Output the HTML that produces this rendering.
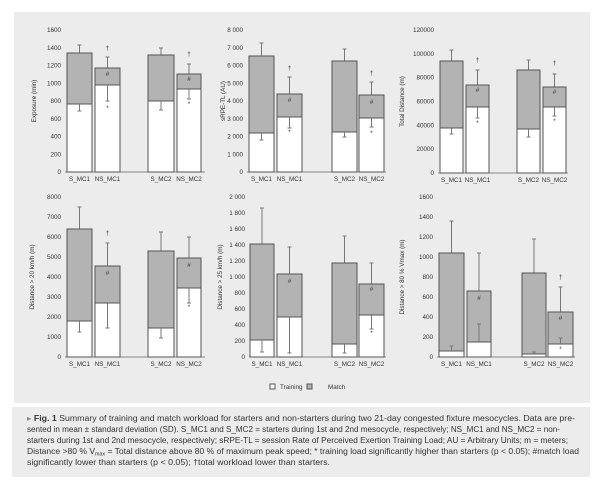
<!DOCTYPE html>
<html><head><meta charset="utf-8"><style>
body{margin:0;background:#fff;width:604px;height:487px;overflow:hidden;font-family:"Liberation Sans",sans-serif}
svg text{font-family:"Liberation Sans",sans-serif;fill:#333}
.t{font-size:6.3px}
.c{font-size:8px}
</style></head><body>
<svg width="604" height="487" style="position:absolute;left:0;top:0" xmlns="http://www.w3.org/2000/svg">
<rect x="14" y="12" width="576" height="391" fill="#ececec"/>
<rect x="12" y="407" width="578" height="70" fill="#ececec"/>
<g id="c"></g>
<text class="c" x="27" y="421" textLength="548" lengthAdjust="spacingAndGlyphs"><tspan fill="#888">▸</tspan> <tspan font-weight="bold">Fig. 1</tspan>   Summary of training and match workload for starters and non-starters during two 21-day congested fixture mesocycles. Data are pre-</text>
<text class="c" x="27" y="432" textLength="533" lengthAdjust="spacingAndGlyphs">sented in mean ± standard deviation (SD). S_MC1 and S_MC2 = starters during 1st and 2nd mesocycle, respectively; NS_MC1 and NS_MC2 = non-</text>
<text class="c" x="27" y="443" textLength="541" lengthAdjust="spacingAndGlyphs">starters during 1st and 2nd mesocycle, respectively; sRPE-TL = session Rate of Perceived Exertion Training Load; AU = Arbitrary Units; m = meters;</text>
<text class="c" x="27" y="454" textLength="552" lengthAdjust="spacingAndGlyphs">Distance &gt;80 % V<tspan font-size="5" dy="1.5">max</tspan><tspan dy="-1.5"> = Total distance above 80 % of maximum peak speed;  * training load significantly higher than starters (p &lt; 0.05); #match load</tspan></text>
<text class="c" x="27" y="465" textLength="303" lengthAdjust="spacingAndGlyphs">significantly lower than starters (p &lt; 0.05); †total workload lower than starters.</text>
</svg>
<script>
const g=document.getElementById('c');let s='';
function T(x,y,t,a,cls){s+=`<text x="${x}" y="${y}" class="${cls||'t'}" text-anchor="${a||'middle'}">${t}</text>`;}
function chart(o){
 const n=o.ticks.length-1;
 o.ticks.forEach((t,i)=>{const y=o.y0-(o.y0-o.ytop)*i/n;T(o.ax-4,y+2,t,'end');});
 s+=`<line x1="${o.ax}" y1="${o.y0}" x2="${o.xe}" y2="${o.y0}" stroke="#888" stroke-width="1"/>`;
 const cy=(o.y0+o.ytop)/2;
 s+=`<text class="t" x="${o.tx}" y="${cy}" text-anchor="middle" transform="rotate(-90 ${o.tx} ${cy})">${o.title}</text>`;
 o.bars.forEach(b=>{
  const [x1,x2,tr,trE,tot,totE,lab,mk]=b;const w=x2-x1,cx=(x1+x2)/2;
  s+=`<line x1="${cx}" y1="${tot}" x2="${cx}" y2="${totE}" stroke="#777" stroke-width="1"/><line x1="${cx-2}" y1="${totE}" x2="${cx+2}" y2="${totE}" stroke="#777"/>`;
  s+=`<rect x="${x1}" y="${tot}" width="${w}" height="${tr-tot}" fill="#b3b3b3" stroke="#555" stroke-width="1"/>`;
  s+=`<rect x="${x1}" y="${tr}" width="${w}" height="${o.y0-tr}" fill="#fff" stroke="#555" stroke-width="1"/>`;
  s+=`<line x1="${cx}" y1="${tr}" x2="${cx}" y2="${trE}" stroke="#777" stroke-width="1"/><line x1="${cx-2}" y1="${trE}" x2="${cx+2}" y2="${trE}" stroke="#777"/>`;
  T(cx,o.y0+9,lab);
  if(mk){mk.forEach(m=>{T(cx,m[1]+2,m[0],'middle');});}
 });
}
chart({ax:65,xe:205,y0:172,ytop:30,ticks:['0','200','400','600','800','1000','1200','1400','1600'],tx:36,title:'Exposure (min)',bars:[
 [67,92,104,111,53,45,'S_MC1'],
 [95,120,85,101,68,57,'NS_MC1',[['†',48],['#',74],['*',108]]],
 [148,174,101,110,55,48,'S_MC2'],
 [177,201,89,99,74,64,'NS_MC2',[['†',54],['#',79],['*',104]]]]});
chart({ax:247,xe:386,y0:172,ytop:30,ticks:['0','1 000','2 000','3 000','4 000','5 000','6 000','7 000','8 000'],tx:225,title:'sRPE-TL (AU)',bars:[
 [249,274,133,140,56,43,'S_MC1'],
 [277,302,117,128,94,77,'NS_MC1',[['†',68],['#',100],['*',132]]],
 [332,357,132,137,61,49,'S_MC2'],
 [359,384,118,127,95,82,'NS_MC2',[['†',73],['#',102],['*',133]]]]});
chart({ax:438,xe:568,y0:173,ytop:30,ticks:['0','20000','40000','60000','80000','100000','120000'],tx:404,title:'Total Distance (m)',bars:[
 [440,463,128,134,61,50,'S_MC1'],
 [466,489,107,118,85,70,'NS_MC1',[['†',60],['#',90],['*',123]]],
 [517,540,129,137,70,60,'S_MC2'],
 [543,566,107,116,87,74,'NS_MC2',[['†',63],['#',92],['*',121]]]]});
chart({ax:65,xe:205,y0:357,ytop:197,ticks:['0','1000','2000','3000','4000','5000','6000','7000','8000'],tx:34,title:'Distance &gt; 20 km/h (m)',bars:[
 [67,92,321,332,229,207,'S_MC1'],
 [95,120,303,328,266,243,'NS_MC1',[['†',233],['#',273]]],
 [148,174,328,338,251,232,'S_MC2'],
 [177,201,288,303,258,237,'NS_MC2',[['#',265],['*',307]]]]});
chart({ax:249,xe:386,y0:357,ytop:197,ticks:['0','200','400','600','800','1 000','1 200','1 400','1 600','1 800','2 000'],tx:222,title:'Distance &gt; 25 km/h (m)',bars:[
 [250,274,340,352,244,208,'S_MC1'],
 [277,302,317,353,274,247,'NS_MC1',[['#',281]]],
 [332,357,344,353,263,236,'S_MC2'],
 [359,384,315,329,284,263,'NS_MC2',[['#',289],['*',333]]]]});
chart({ax:437,xe:575,y0:357,ytop:197,ticks:['0','200','400','600','800','1000','1200','1400','1600'],tx:404,title:'Distance &gt; 80 % Vmax (m)',bars:[
 [439,464,351,346,253,221,'S_MC1'],
 [467,491,342,324,291,253,'NS_MC1',[['#',298]]],
 [522,546,354,352,273,239,'S_MC2'],
 [548,573,344,338,312,287,'NS_MC2',[['†',277],['#',318],['*',349]]]]});
s+=`<rect x="270" y="384" width="5" height="5" fill="#fff" stroke="#555"/>`;
T(280,389,'Training','start');
s+=`<rect x="307" y="384" width="5" height="5" fill="#b3b3b3" stroke="#555"/>`;
T(328,389,'Match','start');
g.innerHTML=s;
</script>
</body></html>
